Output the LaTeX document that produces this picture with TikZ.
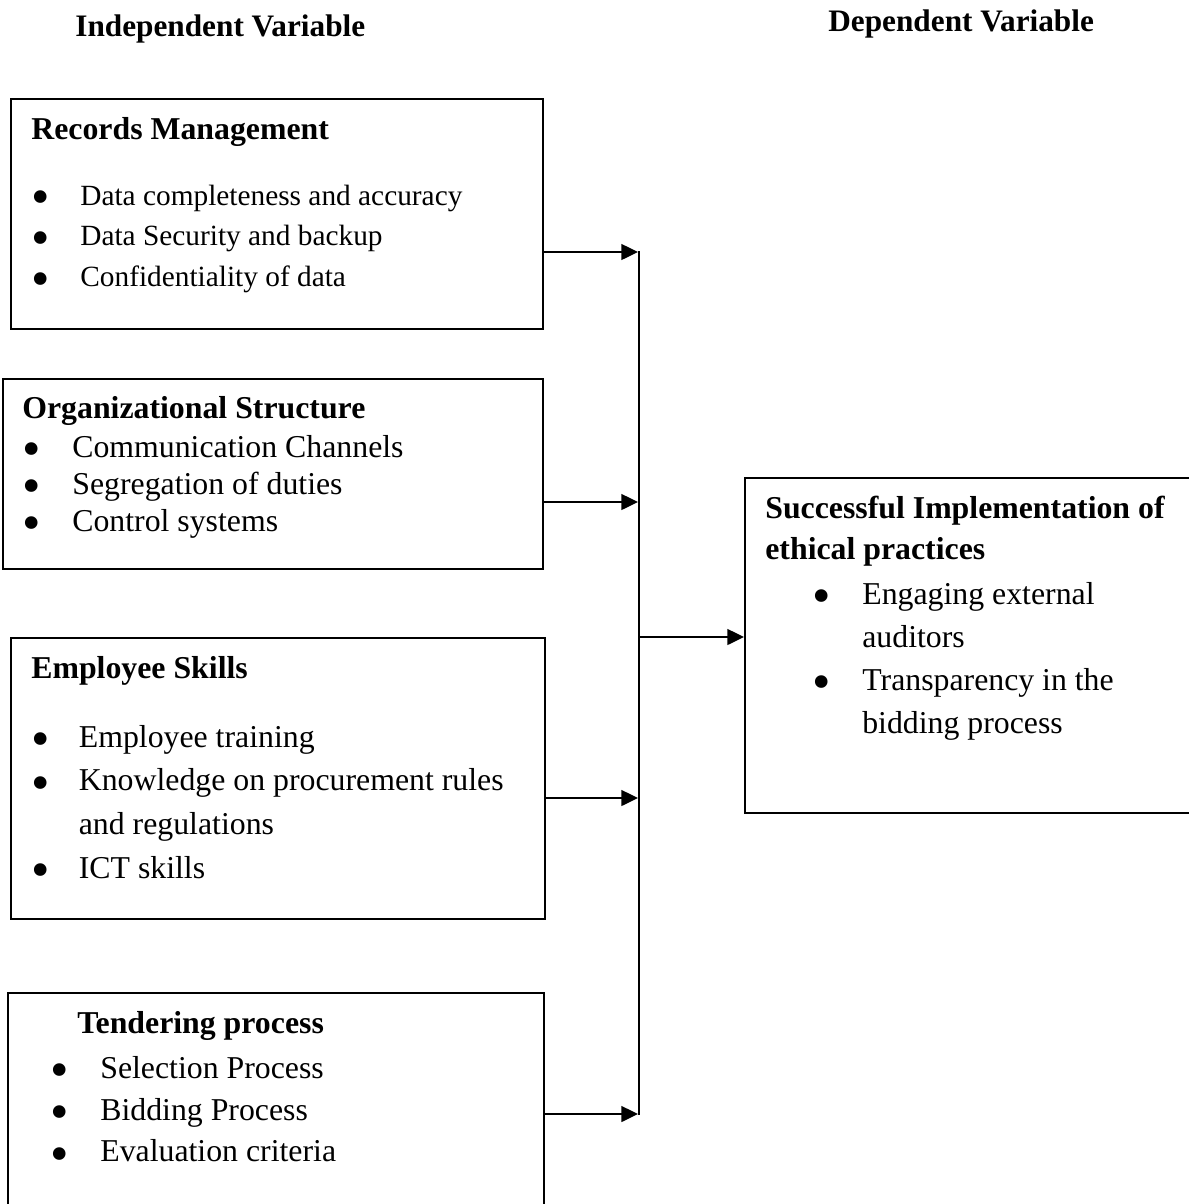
\documentclass[tikz,border=0pt]{standalone}
\usepackage{fontspec}
\setmainfont{Liberation Serif}
\usetikzlibrary{arrows.meta}
\newcommand{\bul}{\smash{\raisebox{-5.2pt}{\fontsize{30}{0}\selectfont\textbullet}}}
\tikzset{
    frame/.style={draw, line width=1.1pt, anchor=north west, inner sep=0pt},
    head/.style={anchor=base west, inner sep=0pt, font=\fontsize{18.1}{23.9}\selectfont\bfseries},
    items/.style={anchor=base west, inner sep=0pt},
    link/.style={line width=1.2pt, -{Triangle[length=9.5pt,width=9pt]}}
}

\begin{document}
\begin{tikzpicture}[x=0.02cm, y=-0.02cm]
    \useasboundingbox (0,0) rectangle (1188,1204);

    % 标题
    \node[head, font=\fontsize{17.8}{22}\selectfont\bfseries] (indep) at (75,36) {Independent Variable};
    \node[head, font=\fontsize{17.8}{22}\selectfont\bfseries] (dep) at (828,31) {Dependent Variable};

    % 自变量框
    \node[frame, minimum width=10.64cm, minimum height=4.6cm] (rm) at (10,98) {};
    \node[head] (rmhead) at (31,139) {Records Management};
    \node[items, font=\fontsize{16.7}{23.3}\selectfont] (rmlist) at (31,205) {%
        \begin{tabular}[t]{@{}p{0.98cm}@{}l@{}}
        \bul & Data completeness and accuracy\\
        \bul & Data Security and backup\\
        \bul & Confidentiality of data
        \end{tabular}};

    \node[frame, minimum width=10.8cm, minimum height=3.8cm] (os) at (2,378) {};
    \node[head] (oshead) at (22,418) {Organizational Structure};
    \node[items, font=\fontsize{18.1}{21.1}\selectfont] (oslist) at (22,457) {%
        \begin{tabular}[t]{@{}p{1.0cm}@{}l@{}}
        \bul & Communication Channels\\
        \bul & Segregation of duties\\
        \bul & Control systems
        \end{tabular}};

    \node[frame, minimum width=10.68cm, minimum height=5.62cm] (es) at (10,637) {};
    \node[head] (eshead) at (31,678) {Employee Skills};
    \node[items, font=\fontsize{18.1}{25}\selectfont] (eslist) at (31,747) {%
        \begin{tabular}[t]{@{}p{0.95cm}@{}l@{}}
        \bul & Employee training\\
        \bul & Knowledge on procurement rules\\
             & and regulations\\
        \bul & ICT skills
        \end{tabular}};

    \node[frame, minimum width=10.72cm, minimum height=4.76cm] (tp) at (7,992) {};
    \node[head] (tphead) at (77,1033) {Tendering process};
    \node[items, font=\fontsize{18.1}{23.9}\selectfont] (tplist) at (50,1078) {%
        \begin{tabular}[t]{@{}p{1.0cm}@{}l@{}}
        \bul & Selection Process\\
        \bul & Bidding Process\\
        \bul & Evaluation criteria
        \end{tabular}};

    % 因变量框
    \node[frame, minimum width=9.12cm, minimum height=6.7cm] (dv) at (744,477) {};
    \node[head] (dvhead) at (765,518) {%
        \begin{tabular}[t]{@{}l@{}}
        Successful Implementation of\\
        ethical practices
        \end{tabular}};
    \node[items, font=\fontsize{18.1}{24.5}\selectfont] (dvlist) at (812,604) {%
        \begin{tabular}[t]{@{}p{1.0cm}@{}l@{}}
        \bul & Engaging external\\
             & auditors\\
        \bul & Transparency in the\\
             & bidding process
        \end{tabular}};

    % 汇总线
    \coordinate (b1) at (638,252);
    \coordinate (b2) at (638,502);
    \coordinate (b3) at (638,798);
    \coordinate (b4) at (638,1114);
    \coordinate (bustop) at (639,251);
    \coordinate (busbot) at (639,1115);
    \coordinate (busmid) at (639,637);
    \draw[line width=1.1pt] (bustop) -- (busbot);

    \draw[link] (rm.east |- b1) -- (b1);
    \draw[link] (os.east |- b2) -- (b2);
    \draw[link] (es.east |- b3) -- (b3);
    \draw[link] (tp.east |- b4) -- (b4);
    \draw[link] (busmid) -- (dv.west |- busmid);
\end{tikzpicture}
\end{document}
